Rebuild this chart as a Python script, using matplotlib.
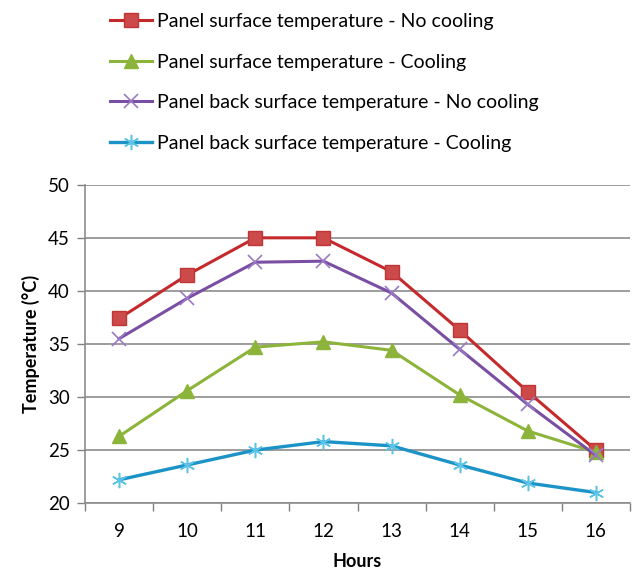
import numpy as np
import matplotlib
matplotlib.use('Agg')
import matplotlib.pyplot as plt
from matplotlib.ticker import FixedLocator

plt.rcParams['font.family'] = ['Lato', 'DejaVu Sans']

# Data
hours = [9, 10, 11, 12, 13, 14, 15, 16]
front_no_cool = [37.4, 41.5, 45.0, 45.0, 41.8, 36.3, 30.5, 25.0]
front_cool = [26.3, 30.6, 34.7, 35.2, 34.4, 30.2, 26.8, 24.8]
back_no_cool = [35.5, 39.3, 42.7, 42.8, 39.8, 34.5, 29.3, 24.5]
back_cool = [22.2, 23.6, 25.0, 25.8, 25.4, 23.6, 21.9, 21.0]

labels = ['Panel surface temperature - No cooling',
          'Panel surface temperature - Cooling',
          'Panel back surface temperature - No cooling',
          'Panel back surface temperature - Cooling']

fig = plt.figure(figsize=(6.35, 5.81), dpi=100)
ax = fig.add_axes([0.134, 0.134, 0.858, 0.548])

x = np.arange(len(hours))
ax.plot(x, front_no_cool, color='#C42A2C', lw=2.2, marker='s', ms=10,
        mfc='#CC4A4A', mec='#C03535', label=labels[0])
ax.plot(x, front_cool, color='#8DB43A', lw=2.2, marker='^', ms=10,
        mfc='#8DB43A', mec='#8DB43A', label=labels[1])
ax.plot(x, back_no_cool, color='#7A4FA3', lw=2.2, marker='x', ms=10,
        mew=1.2, mec='#9A7AC4', label=labels[2])
ax.plot(x, back_cool, color='#1C93C6', lw=2.4, marker=(6, 2, 0), ms=11,
        mew=1.1, mec='#5BC3E6', label=labels[3])

ax.set_xlim(-0.5, len(hours) - 0.5)
ax.set_ylim(20, 50)
ax.set_yticks(np.arange(20, 51, 5))
ax.set_xticks(x)
ax.set_xticklabels([str(h) for h in hours])
ax.xaxis.set_minor_locator(FixedLocator(np.arange(-0.5, len(hours), 1)))
ax.tick_params(axis='x', which='major', length=0, pad=14, labelsize=13.5)
ax.tick_params(axis='x', which='minor', length=6, color='#808080', width=1)
ax.tick_params(axis='y', length=6, color='#808080', width=1, labelsize=13.5, pad=5)

ax.grid(axis='y', color='#8C8C8C', lw=1.2)
ax.set_axisbelow(True)
for s in ['top', 'right']:
    ax.spines[s].set_visible(False)
ax.spines['left'].set_color('#8C8C8C')
ax.spines['bottom'].set_color('#8C8C8C')
ax.spines['left'].set_linewidth(1.2)
ax.spines['bottom'].set_linewidth(1.2)

ax.set_xlabel('Hours', fontsize=13, fontweight='bold', labelpad=10)
ax.set_ylabel('Temperature (°C)', fontsize=13, fontweight='bold', labelpad=6)

fig.legend(loc='upper left', bbox_to_anchor=(0.145, 1.008), frameon=False,
           fontsize=14, labelspacing=1.22, handlelength=2.2, handletextpad=0.25)

fig.savefig('out.png', dpi=100)
